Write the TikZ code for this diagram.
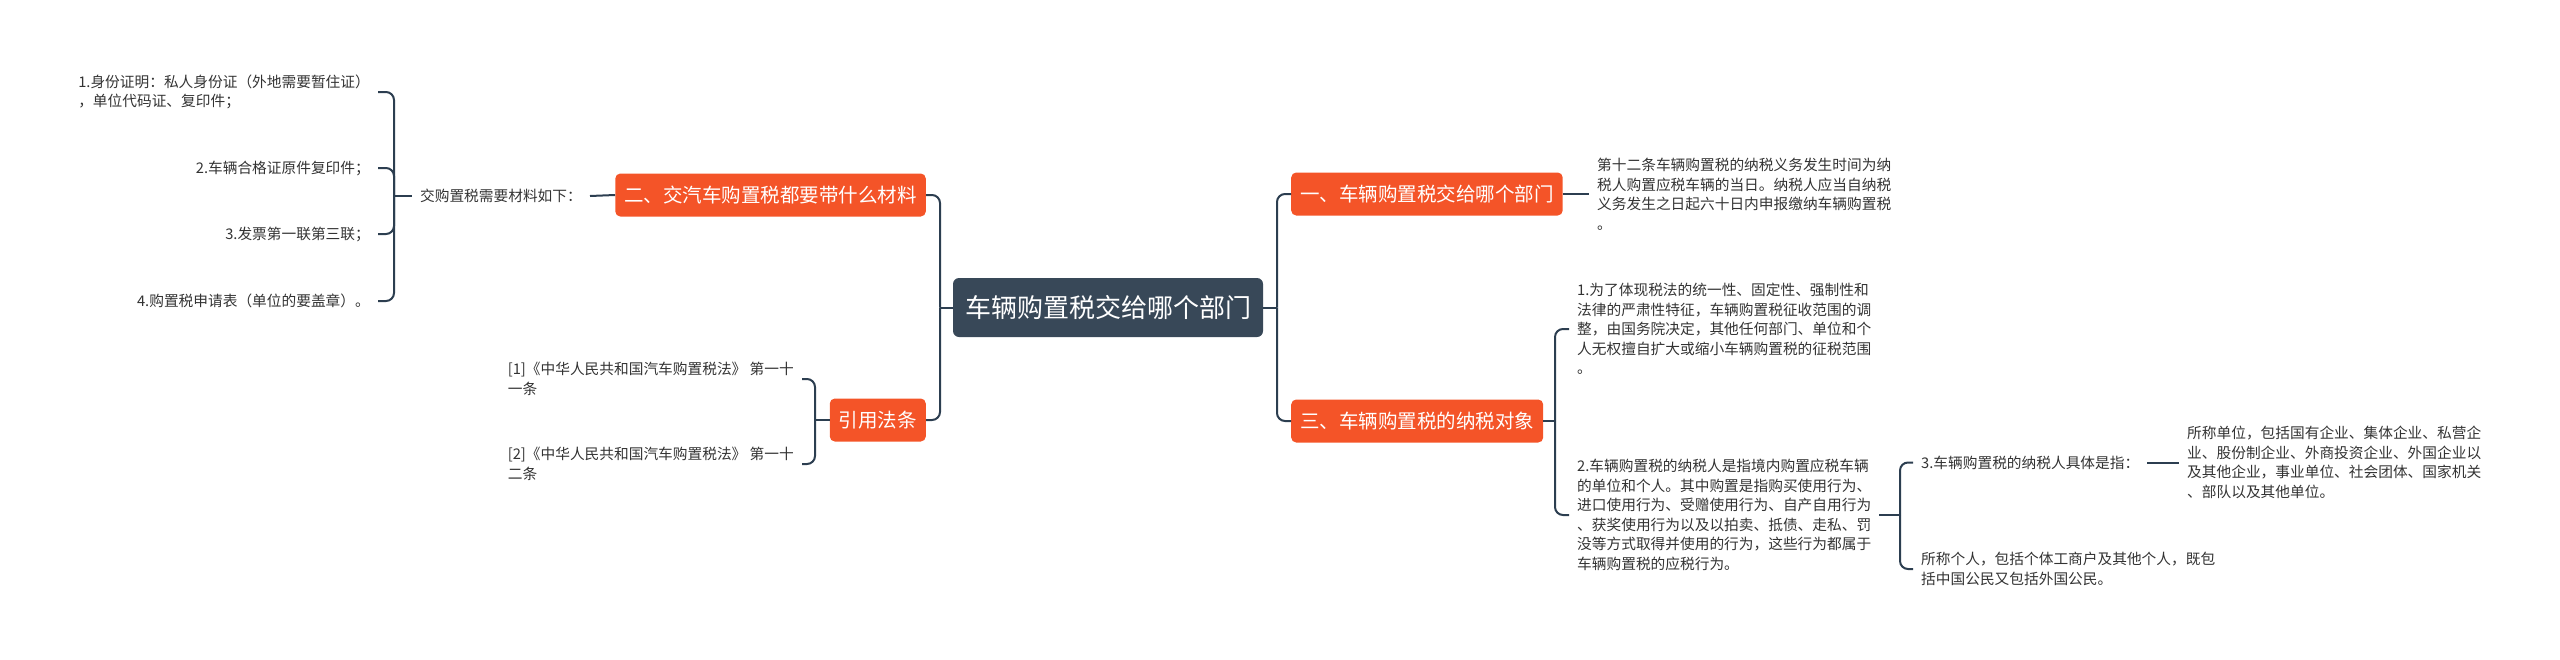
\documentclass[tikz,border=0pt]{standalone}
\usepackage{fontspec}
\setmainfont{Noto Sans CJK SC}
\definecolor{orng}{RGB}{244,84,40}
\definecolor{slate}{RGB}{56,72,88}
\definecolor{lnk}{RGB}{44,62,80}
\definecolor{txt}{RGB}{51,51,51}
\begin{document}
\begin{tikzpicture}[x=1pt,y=-1pt,
 conn/.style={draw=lnk,line width=2pt,rounded corners=8pt},
 topic/.style={fill=orng,text=white,rounded corners=5pt,minimum height=43pt,inner xsep=9pt,inner ysep=0pt,font=\fontsize{19.5}{23}\selectfont},
 root/.style={fill=slate,text=white,rounded corners=6pt,minimum height=59pt,inner xsep=12pt,font=\fontsize{26}{30}\selectfont},
 leaf/.style={text=txt,inner xsep=8pt,inner ysep=2pt,align=left,font=\fontsize{14.7}{19.5}\selectfont}]
\useasboundingbox (0,0) rectangle (2560,659);
\path (1277,0) coordinate (xR) (940,0) coordinate (xL) (1555,0) coordinate (x3)
      (1900,0) coordinate (x4) (394,0) coordinate (xA) (815,0) coordinate (xB);
% main nodes
\node[root] (c) at (1108,307.5) {车辆购置税交给哪个部门};
\node[topic,anchor=west] (b1) at (1291,194) {一、车辆购置税交给哪个部门};
\node[topic,anchor=west] (b3) at (1291,421) {三、车辆购置税的纳税对象};
\node[topic,anchor=east] (b2) at (926,195) {二、交汽车购置税都要带什么材料};
\node[topic,anchor=east] (b4) at (926,420) {引用法条};
% right leaves
\node[leaf,anchor=west] (t1) at (1589,194) {第十二条车辆购置税的纳税义务发生时间为纳\\税人购置应税车辆的当日。纳税人应当自纳税\\义务发生之日起六十日内申报缴纳车辆购置税\\。};
\node[leaf,anchor=west] (s1) at (1569,329) {1.为了体现税法的统一性、固定性、强制性和\\法律的严肃性特征，车辆购置税征收范围的调\\整，由国务院决定，其他任何部门、单位和个\\人无权擅自扩大或缩小车辆购置税的征税范围\\。};
\node[leaf,anchor=west] (s2) at (1569,515) {2.车辆购置税的纳税人是指境内购置应税车辆\\的单位和个人。其中购置是指购买使用行为、\\进口使用行为、受赠使用行为、自产自用行为\\、获奖使用行为以及以拍卖、抵债、走私、罚\\没等方式取得并使用的行为，这些行为都属于\\车辆购置税的应税行为。};
\node[leaf,anchor=west] (u1) at (1913,462.5) {3.车辆购置税的纳税人具体是指：};
\node[leaf,anchor=west] (u2) at (1913,569) {所称个人，包括个体工商户及其他个人，既包\\括中国公民又包括外国公民。};
\node[leaf,anchor=west] (v1) at (2179,462.5) {所称单位，包括国有企业、集体企业、私营企\\业、股份制企业、外商投资企业、外国企业以\\及其他企业，事业单位、社会团体、国家机关\\、部队以及其他单位。};
% left leaves
\node[leaf,anchor=east] (l0) at (590,196) {交购置税需要材料如下：};
\node[leaf,anchor=east] (a1) at (378,92) {1.身份证明：私人身份证（外地需要暂住证）\\，单位代码证、复印件；};
\node[leaf,anchor=east] (a2) at (378,168) {2.车辆合格证原件复印件；};
\node[leaf,anchor=east] (a3) at (378,234) {3.发票第一联第三联；};
\node[leaf,anchor=east] (a4) at (378,301) {4.购置税申请表（单位的要盖章）。};
\node[leaf,anchor=east] (r1) at (802,379) {[1]《中华人民共和国汽车购置税法》 第一十\\一条};
\node[leaf,anchor=east] (r2) at (802,464) {[2]《中华人民共和国汽车购置税法》 第一十\\二条};
% connectors
\draw[conn] (c.east) -- (c.east -| xR);
\draw[conn] (c.east -| xR) |- (b1.west);
\draw[conn] (c.east -| xR) |- (b3.west);
\draw[conn] (c.west) -- (c.west -| xL);
\draw[conn] (c.west -| xL) |- (b2.east);
\draw[conn] (c.west -| xL) |- (b4.east);
\draw[conn] (b1.east) -- (t1.west);
\draw[conn] (b3.east) -- (b3.east -| x3);
\draw[conn] (b3.east -| x3) |- (s1.west);
\draw[conn] (b3.east -| x3) |- (s2.west);
\draw[conn] (s2.east) -- (s2.east -| x4);
\draw[conn] (s2.east -| x4) |- (u1.west);
\draw[conn] (s2.east -| x4) |- (u2.west);
\draw[conn] (u1.east) -- (v1.west);
\draw[conn] (b2.west) -- (l0.east);
\draw[conn] (l0.west) -- (l0.west -| xA);
\draw[conn] (l0.west -| xA) |- (a1.east);
\draw[conn] (l0.west -| xA) |- (a2.east);
\draw[conn] (l0.west -| xA) |- (a3.east);
\draw[conn] (l0.west -| xA) |- (a4.east);
\draw[conn] (b4.west) -- (b4.west -| xB);
\draw[conn] (b4.west -| xB) |- (r1.east);
\draw[conn] (b4.west -| xB) |- (r2.east);
\end{tikzpicture}
\end{document}
